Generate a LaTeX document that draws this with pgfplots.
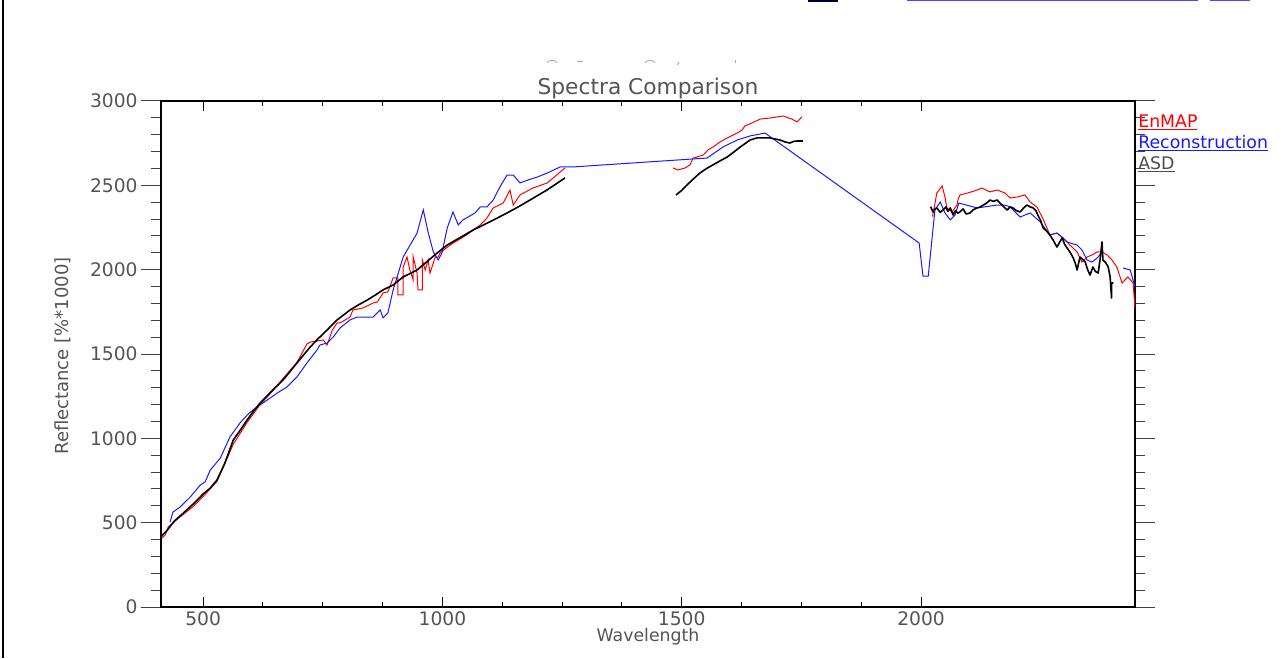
\documentclass[border=0pt]{standalone}
\usepackage{pgfplots}
\pgfplotsset{compat=1.18}
\usepackage{fontspec}
\setmainfont{DejaVu Sans}
\definecolor{txt}{gray}{0.33}
\definecolor{enred}{RGB}{255,0,0}
\definecolor{recblue}{RGB}{25,25,255}
\definecolor{asd}{RGB}{0,0,0}
\begin{document}
\begin{tikzpicture}
\path[use as bounding box] (0,0) rectangle (960.75pt,493.5pt);
\fill[black] (1.5pt,0) rectangle (3.2pt,493.5pt);
\fill[black!80!blue] (606pt,492pt) rectangle (628.5pt,493.5pt);
\fill[recblue!80] (680.25pt,492.6pt) rectangle (898.5pt,493.5pt);
\fill[recblue!80] (907.5pt,492.6pt) rectangle (937.5pt,493.5pt);
% faint remnants of an overdrawn title
\begin{scope}[black!35, line width=0.6pt]
\draw (410.25pt,446.5pt) .. controls (412pt,448.8pt) and (416pt,448.8pt) .. (417.75pt,446.5pt);
\draw (433pt,447.3pt) -- (437pt,447.3pt);
\draw (483.75pt,446.5pt) .. controls (485.5pt,448.8pt) and (489.5pt,448.8pt) .. (491.25pt,446.5pt);
\draw (508pt,445pt) -- (509.5pt,447pt);
\draw (551.25pt,448.3pt) -- (551.25pt,446.3pt);
\end{scope}
\begin{axis}[
  at={(120.75pt,38.25pt)}, anchor=south west,
  scale only axis, width=730.5pt, height=379.5pt,
  xmin=412, xmax=2447, ymin=0, ymax=3000,
  clip=false,
  unbounded coords=jump,
  scaled ticks=false,
  /pgf/number format/assume math mode=true,
  /pgf/number format/1000 sep={},
  xtick={500,1000,1500,2000},
  ytick={0,500,1000,1500,2000,2500,3000},
  minor x tick num=3,
  minor y tick num=4,
  xtick align=inside,
  ytick align=outside,
  xtick pos=both, ytick pos=both,
  xticklabel pos=lower, yticklabel pos=left,
  xtick style={black, line width=0.75pt, /pgfplots/major tick length=7.5pt, /pgfplots/minor tick length=4pt},
  ytick style={black!75, line width=0.75pt, /pgfplots/major tick length=15pt, /pgfplots/minor tick length=7.5pt},
  axis line style={black, line width=0.9pt},
  tick label style={text=txt, font=\fontsize{14}{16}\selectfont},
  yticklabel style={xshift=-9.75pt},
  xlabel={Wavelength},
  ylabel={Reflectance [\%*1000]},
  every axis x label/.style={at={(rel axis cs:0.5,-0.0672)}, anchor=base, inner sep=0pt, text=txt, font=\fontsize{13}{15}\selectfont},
  every axis y label/.style={at={(rel axis cs:-0.1006,0.496)}, anchor=center, rotate=90, text=txt, font=\fontsize{13.5}{16}\selectfont},
]
% EnMAP
\addplot[enred, line width=0.75pt] coordinates {
(414,409) (421,427) (427,474) (450,530) (479,595) (500,655) (529,745) (563,965) (592,1095) (619,1200) (645,1280) (667,1355) (696,1450) (717,1560) (724,1571) (751,1583) (759,1553) (770,1642) (780,1684) (786,1684) (807,1719) (813,1761) (834,1773) (855,1802) (864,1808) (876,1862) (886,1868) (897,1951) (907,1951) (907,1850) (918,1850) (918,2016) (926,2075) (932,1998) (939,1939) (939,2075) (947,1980) (949,1880) (958,1880) (958,2057) (964,1998) (970,2057) (974,1980) (981,2040) (985,2075) (991,2075) (995,2099) (1016,2146) (1050,2205) (1079,2265) (1093,2306) (1106,2366) (1127,2395) (1141,2472) (1148,2383) (1162,2443) (1189,2484) (1219,2514) (1256,2603)
(1400,nan)
(1482,2603) (1492,2591) (1507,2603) (1517,2621) (1524,2662) (1532,2668) (1545,2680) (1555,2710) (1565,2727) (1580,2757) (1595,2781) (1616,2810) (1626,2828) (1632,2852) (1647,2870) (1664,2893) (1684,2899) (1712,2911) (1730,2893) (1741,2876) (1751,2905)
(1900,nan)
(2024,2314) (2033,2455) (2044,2496) (2050,2431) (2054,2366) (2065,2342) (2075,2383) (2077,2413) (2081,2443) (2098,2455) (2117,2472) (2127,2484) (2144,2461) (2159,2472) (2175,2455) (2186,2425) (2201,2431) (2217,2443) (2228,2401) (2242,2372) (2253,2312) (2263,2247) (2269,2206) (2284,2217) (2297,2188) (2311,2146) (2326,2105) (2336,2045) (2347,2075) (2357,2087) (2368,2105) (2378,2105) (2389,2087) (2399,2057) (2409,2016) (2420,1921) (2432,1957) (2443,1921) (2447,1770)
};
% Reconstruction
\addplot[recblue, line width=0.75pt] coordinates {
(431,504) (437,563) (452,593) (473,652) (494,723) (504,741) (515,812) (536,883) (556,1008) (571,1067) (577,1091) (592,1138) (604,1168) (619,1198) (640,1239) (655,1269) (675,1304) (696,1364) (717,1447) (738,1524) (744,1553) (759,1565) (772,1601) (786,1654) (807,1702) (822,1719) (855,1719) (870,1761) (876,1714) (886,1743) (897,1880) (918,2075) (947,2217) (960,2354) (970,2223) (981,2105) (991,2057) (999,2099) (1010,2247) (1022,2342) (1033,2265) (1043,2295) (1068,2336) (1079,2372) (1093,2372) (1106,2413) (1120,2490) (1135,2561) (1148,2561) (1162,2514) (1179,2532) (1198,2549) (1219,2573) (1246,2609) (1273,2609) (1553,2662) (1586,2727) (1616,2769) (1643,2793) (1674,2810) (1996,2158) (2004,1962) (2015,1962) (2029,2354) (2040,2401) (2050,2336) (2061,2295) (2071,2324) (2079,2395) (2117,2366) (2159,2383) (2175,2383) (2186,2372) (2207,2312) (2217,2324) (2228,2336) (2249,2283) (2269,2206) (2284,2217) (2305,2164) (2326,2146) (2336,2117) (2347,2057) (2357,2045) (2368,2069) (2378,2105) (2380,2099)
(2400,nan)
(2422,2010) (2437,1998) (2447,1897)
};
% ASD
\addplot[asd, line width=1.2pt, line join=round] coordinates {
(413,420) (425,455) (440,510) (460,560) (479,610) (500,670) (515,705) (529,753) (545,850) (563,990) (578,1050) (592,1109) (605,1160) (619,1209) (645,1285) (667,1346) (680,1390) (696,1447) (710,1495) (724,1542) (740,1590) (759,1642) (780,1702) (807,1761) (825,1792) (843,1820) (860,1850) (876,1880) (897,1909) (918,1957) (947,1998) (989,2099) (1010,2146) (1064,2235) (1100,2285) (1135,2336) (1160,2375) (1183,2413) (1220,2475) (1256,2544)
(1400,nan)
(1488,2443) (1500,2470) (1511,2502) (1525,2540) (1538,2573) (1552,2600) (1565,2621) (1580,2645) (1595,2668) (1610,2700) (1622,2727) (1643,2769) (1657,2781) (1684,2781) (1705,2769) (1716,2757) (1726,2751) (1733,2760) (1741,2763) (1753,2763)
(1900,nan)
(2020,2373) (2025,2342) (2029,2360) (2033,2366) (2040,2340) (2046,2354) (2052,2372) (2056,2345) (2061,2366) (2067,2324) (2072,2350) (2077,2335) (2081,2342) (2088,2360) (2094,2330) (2102,2336) (2109,2355) (2117,2366) (2124,2372) (2130,2383) (2137,2395) (2144,2413) (2151,2405) (2159,2413) (2164,2398) (2169,2383) (2175,2366) (2180,2354) (2186,2372) (2192,2366) (2199,2350) (2207,2342) (2214,2365) (2221,2383) (2228,2372) (2234,2366) (2240,2350) (2244,2324) (2250,2290) (2255,2247) (2262,2230) (2269,2206) (2276,2175) (2284,2134) (2290,2165) (2295,2188) (2300,2150) (2305,2129) (2312,2100) (2318,2069) (2322,2040) (2326,1998) (2332,2075) (2338,2060) (2343,2045) (2348,2000) (2353,1968) (2359,2016) (2364,1990) (2370,1980) (2374,2060) (2378,2164) (2380,2057) (2386,2040) (2391,2016) (2395,1957) (2398,1832) (2398,1921) (2402,1921)
};
\node[anchor=base, text=txt, font=\fontsize{16.3}{18}\selectfont, inner sep=0pt] at (rel axis cs:0.5,1.0119) {Spectra Comparison};
\node[anchor=base west, inner sep=0pt, font=\fontsize{13}{15}\selectfont, text=enred] at (rel axis cs:1.0031,0.9486) {\underline{EnMAP}};
\node[anchor=base west, inner sep=0pt, font=\fontsize{13}{15}\selectfont, text=recblue] at (rel axis cs:1.0031,0.907) {\underline{Reconstruction}};
\node[anchor=base west, inner sep=0pt, font=\fontsize{13}{15}\selectfont, text=black!70] at (rel axis cs:1.0031,0.8656) {\underline{ASD}};
\end{axis}
\end{tikzpicture}
\end{document}
